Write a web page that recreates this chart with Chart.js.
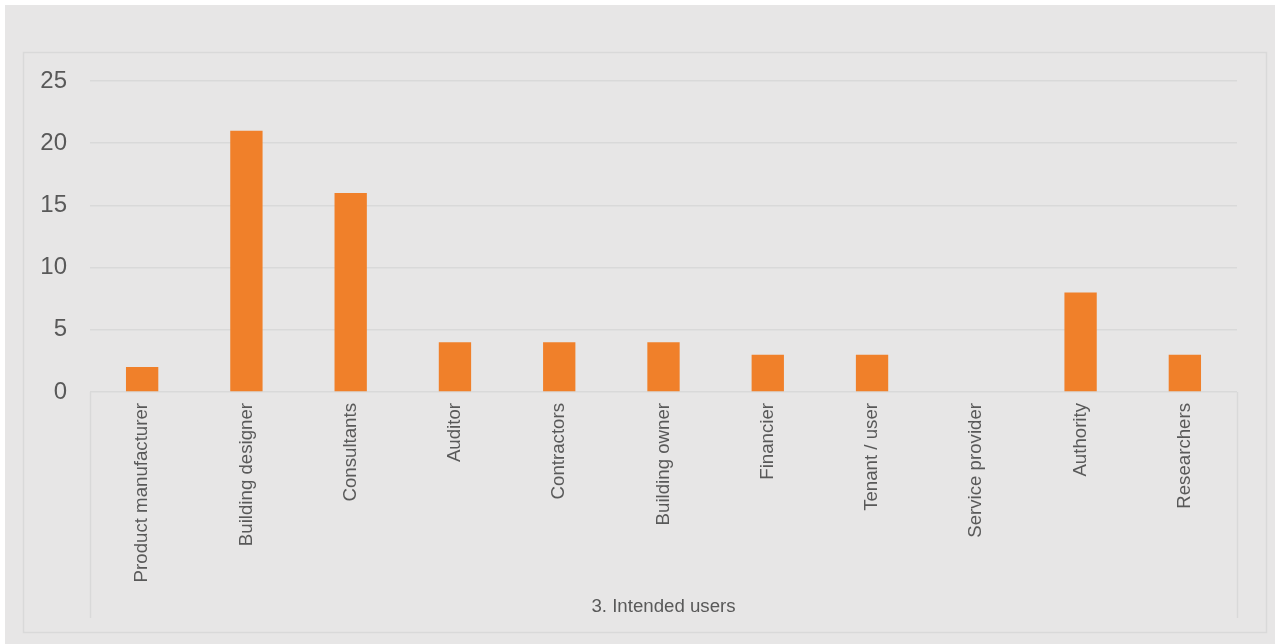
<!DOCTYPE html>
<html>
<head>
<meta charset="utf-8">
<script src="https://cdn.jsdelivr.net/npm/chart.js@4"></script>
<style>
  body { margin: 0; background: #ffffff; }
  #usersChart { position: absolute; left: 5px; top: 5px; }
</style>
</head>
<body>
<canvas id="usersChart" width="1270" height="639"></canvas>
<script>
  const categories = ['Product manufacturer', 'Building designer', 'Consultants', 'Auditor', 'Contractors',
    'Building owner', 'Financier', 'Tenant / user', 'Service provider', 'Authority', 'Researchers'];
  const counts = [2, 21, 16, 4, 4, 4, 3, 3, 0, 8, 3];
  const groupLabel = '3. Intended users';
  const yTicks = [0, 5, 10, 15, 20, 25];

  const textColor = '#595959';
  const lineColor = '#d9d9d9';

  // grey background, outer frame and the group separators under the axis
  const framePlugin = {
    id: 'frame',
    beforeDraw(chart) {
      const ctx = chart.ctx;
      ctx.save();
      ctx.fillStyle = '#e7e6e6';
      ctx.fillRect(0, 0, chart.width, chart.height);
      ctx.strokeStyle = lineColor;
      ctx.lineWidth = 1.5;
      ctx.strokeRect(18.5, 47.5, 1243, 580);
      ctx.restore();
    },
    afterDraw(chart) {
      const ctx = chart.ctx;
      const area = chart.chartArea;
      ctx.save();
      ctx.strokeStyle = lineColor;
      ctx.lineWidth = 1.5;
      ctx.beginPath();
      [area.left, area.right].forEach(x => {
        ctx.moveTo(Math.round(x) + 0.5, area.bottom);
        ctx.lineTo(Math.round(x) + 0.5, 613);
      });
      ctx.stroke();
      ctx.restore();
    }
  };

  new Chart(document.getElementById('usersChart'), {
    type: 'bar',
    data: {
      labels: categories,
      datasets: [{
        data: counts,
        backgroundColor: '#f0802a',
        barPercentage: 0.31,
        categoryPercentage: 1
      }]
    },
    options: {
      responsive: false,
      animation: false,
      layout: { padding: { left: 0, top: 76, right: 38, bottom: 0 } },
      plugins: {
        legend: { display: false },
        tooltip: { enabled: false }
      },
      scales: {
        x: {
          afterFit(scale) { scale.height = 252; },
          grid: { display: false, drawTicks: false },
          border: { display: false },
          ticks: {
            minRotation: 90,
            maxRotation: 90,
            padding: 11,
            color: textColor,
            font: { family: 'Liberation Sans', size: 18.67 }
          },
          title: {
            display: true,
            text: groupLabel,
            color: textColor,
            padding: { top: 0, bottom: 26 },
            font: { family: 'Liberation Sans', size: 18.67 }
          }
        },
        y: {
          min: yTicks[0],
          max: yTicks[yTicks.length - 1],
          afterFit(scale) { scale.width = 85; },
          afterBuildTicks(scale) { scale.ticks = yTicks.map(v => ({ value: v })); },
          grid: { color: lineColor, lineWidth: 1.5, drawTicks: false },
          border: { display: false },
          ticks: {
            padding: 23,
            color: textColor,
            font: { family: 'Liberation Sans', size: 24 }
          }
        }
      }
    },
    plugins: [framePlugin]
  });
</script>
</body>
</html>
